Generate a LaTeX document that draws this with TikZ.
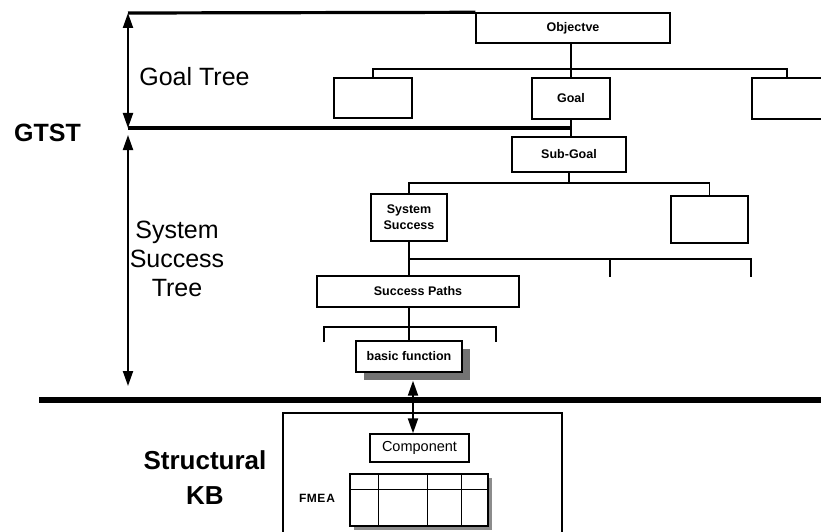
\documentclass[tikz,border=0pt]{standalone}
\usepackage{fontspec}
\setmainfont{Liberation Sans}
\usetikzlibrary{arrows.meta,shadows,calc}

\begin{document}
\begin{tikzpicture}[x=1pt,y=-1pt,
  box/.style={draw,line width=1.4pt,fill=white,inner sep=0pt,align=center,
    font=\fontsize{12.5}{15}\selectfont\bfseries},
  conn/.style={line width=1.6pt},
  heavy/.style={line width=3.2pt},
  bar/.style={line width=6.5pt},
  dbl/.style={line width=2pt,{Triangle[length=15pt,width=10pt]}-{Triangle[length=15pt,width=10pt]}},
  biglabel/.style={font=\fontsize{25}{29}\selectfont,align=center,inner sep=0pt},
  boldlabel/.style={font=\fontsize{26}{35}\selectfont\bfseries,align=center,inner sep=0pt}
]
\useasboundingbox (0,0) rectangle (821,532);
\clip (0,0) rectangle (821,532);

% ---------- goal tree ----------
\node[box,minimum width=194pt,minimum height=30pt] (obj) at (573,28) {Objectve};
\node[box,minimum width=78pt,minimum height=40pt] (gl) at (373,98) {};
\node[box,minimum width=78pt,minimum height=41pt] (goal) at (571,98.5) {Goal};
\node[box,minimum width=70pt,minimum height=41pt] (gr) at (787,98.5) {};

\coordinate (busA) at (0,69);
\draw[conn] (goal.north |- obj.south) -- (goal.north);
\draw[conn] (gl.north) -- (gl.north |- busA) -- (gr.north |- busA) -- (gr.north);

% ---------- system success tree ----------
\node[box,minimum width=114pt,minimum height=35pt] (sub) at (569,154.5) {Sub-Goal};
\node[box,minimum width=76pt,minimum height=47pt,
  font=\fontsize{12.5}{16}\selectfont\bfseries] (ss) at (409,217.5) {System\\Success};
\node[box,minimum width=77pt,minimum height=47pt] (sr) at (709.5,219.5) {};
\node[box,minimum width=202pt,minimum height=31pt] (sp) at (418,291.5) {Success Paths};
\node[box,minimum width=106pt,minimum height=31pt,
  drop shadow={shadow xshift=8pt,shadow yshift=-8pt,fill=black!55,opacity=1}]
  (bf) at (409,356.5) {basic function};

\draw[conn] (goal.south) -- (goal.south |- sub.north);

\coordinate (busB) at (0,183);
\draw[conn] (sub.south) -- (sub.south |- busB);
\draw[conn] (ss.north) -- (ss.north |- busB) -- (sr.north |- busB) -- (sr.north);

\coordinate (busC) at (0,259);
\coordinate (tickC1) at (610,277);
\coordinate (tickC2) at (751,277);
\draw[conn] (ss.south) -- (ss.south |- sp.north);
\draw[conn] (ss.south |- busC) -- (tickC2 |- busC) -- (tickC2);
\draw[conn] (tickC1 |- busC) -- (tickC1);

\coordinate (busDl) at (324,342);
\coordinate (busDr) at (496,342);
\coordinate (busD) at (0,327);
\draw[conn] (bf.north |- sp.south) -- (bf.north);
\draw[conn] (busDl) -- (busDl |- busD) -- (busDr |- busD) -- (busDr);

% ---------- left-hand scale ----------
\coordinate (gtTop) at (128,13);
\coordinate (gtMid) at (128,128);
\coordinate (sstTop) at (128,135);
\coordinate (sstBot) at (128,386);
\draw[heavy] (gtTop) -- (obj.north west);
\draw[heavy] (gtMid) -- (gtMid -| goal.south);
\draw[dbl] (gtTop) -- (gtMid);
\draw[dbl] (sstTop) -- (sstBot);

\node[biglabel] (gtl) at (194.5,77) {Goal Tree};
\node[biglabel,font=\fontsize{25}{29}\selectfont\bfseries] (gtst) at (47.5,133) {GTST};
\node[biglabel] (sstl) at (177,259) {System\\Success\\Tree};

% ---------- separator ----------
\coordinate (sepL) at (39,400);
\coordinate (sepR) at (821,400);
\draw[bar] (sepL) -- (sepR);

% ---------- structural knowledge base ----------
\node[draw,line width=1.4pt,minimum width=279pt,minimum height=140pt,inner sep=0pt]
  (kb) at (422.5,483) {};
\node[box,minimum width=99pt,minimum height=28pt,
  font=\fontsize{14.5}{16}\selectfont] (comp) at (419.5,448) {Component};

\coordinate (ax) at (413,0);
\draw[dbl] ([yshift=-8pt]bf.south -| ax) -- (comp.north -| ax);

\node[draw,line width=1.2pt,fill=white,minimum width=138pt,minimum height=52pt,inner sep=0pt,
  drop shadow={shadow xshift=4pt,shadow yshift=-4pt,fill=black!45,opacity=1}]
  (fmea) at (419,500) {};
\draw[line width=1.2pt] ($(fmea.north west)+(0,16)$) -- ($(fmea.north east)+(0,16)$);
\foreach \cx in {29,78,112}
  \draw[line width=1.2pt] ($(fmea.north west)+(\cx,0)$) -- ($(fmea.south west)+(\cx,0)$);
\node[font=\fontsize{12}{14}\selectfont\bfseries,inner sep=0pt] (fmeal) at (317,498) {F\kern0.5pt M\kern0.5pt E\kern1pt A};

\node[boldlabel] (skb) at (205,478) {Structural\\KB};
\end{tikzpicture}
\end{document}
